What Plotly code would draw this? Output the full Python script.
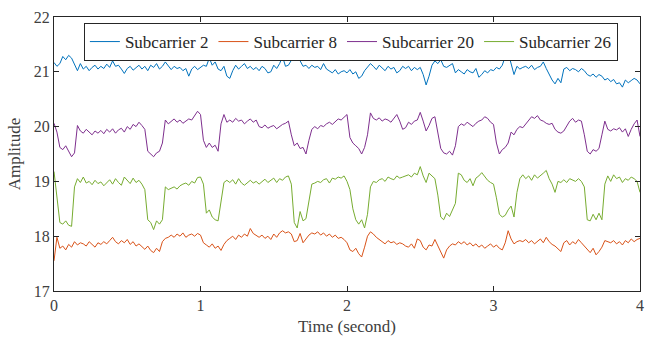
import numpy as np
import plotly.graph_objects as go

# Sampling grid (seconds)
time_s = [round(i * 0.02, 2) for i in range(201)]

subcarrier_2 = [
    21.17, 21.10, 21.15, 21.28, 21.22, 21.30, 21.25, 21.12, 21.02, 21.15,
    21.05, 21.10, 21.02, 21.08, 21.12, 21.05, 21.10, 21.06, 21.14, 21.08,
    21.20, 21.10, 21.12, 21.05, 20.97, 21.06, 21.10, 21.03, 21.08, 21.12,
    21.05, 21.10, 21.02, 21.12, 21.08, 21.15, 21.05, 21.10, 21.18, 21.12,
    21.04, 21.10, 21.06, 21.08, 21.02, 21.06, 20.92, 21.05, 21.10, 21.04,
    21.08, 21.12, 21.10, 21.25, 21.12, 21.18, 21.05, 21.02, 21.10, 20.92,
    20.88, 21.02, 21.12, 21.05, 21.10, 21.15, 21.06, 21.10, 21.04, 21.08,
    21.02, 21.10, 21.06, 20.98, 21.00, 21.12, 21.06, 21.15, 21.28, 21.10,
    21.12, 21.22, 21.30, 21.25, 21.20, 21.10, 21.12, 21.06, 21.12, 21.08,
    21.10, 21.04, 21.15, 21.05, 21.02, 20.98, 21.04, 20.96, 21.00, 21.02,
    20.98, 21.04, 20.96, 21.00, 20.88, 20.92, 21.02, 21.08, 21.15, 21.10,
    21.04, 21.12, 21.06, 21.02, 21.10, 21.05, 21.08, 20.98, 21.02, 21.10,
    21.06, 21.10, 21.02, 21.08, 21.04, 21.08, 20.95, 20.76, 20.92, 21.12,
    21.20, 21.15, 21.22, 21.10, 21.08, 21.12, 21.15, 20.98, 21.04, 21.00,
    20.96, 21.04, 21.00, 20.98, 21.06, 20.90, 20.95, 21.02, 20.98, 21.04,
    21.02, 21.08, 21.05, 21.12, 21.28, 21.35, 21.15, 20.95, 21.10, 21.05,
    21.08, 21.10, 21.06, 21.12, 21.04, 21.08, 21.10, 21.18, 21.06, 20.95,
    20.85, 20.78, 20.88, 20.80, 21.05, 21.08, 21.02, 21.06, 21.04, 21.00,
    21.06, 21.02, 20.95, 20.92, 20.96, 20.90, 20.95, 20.92, 20.85, 20.88,
    20.82, 20.86, 20.78, 20.80, 20.72, 20.85, 20.80, 20.84, 20.88, 20.85,
    20.78,
]

subcarrier_8 = [
    17.55, 17.98, 17.78, 17.82, 17.75, 17.85, 17.80, 17.90, 17.84, 17.88,
    17.86, 17.82, 17.90, 17.84, 17.80, 17.88, 17.85, 17.90, 17.86, 17.92,
    17.98, 17.90, 17.86, 17.92, 17.88, 17.94, 17.85, 17.90, 17.82, 17.86,
    17.80, 17.76, 17.82, 17.74, 17.70, 17.78, 17.72, 17.90, 17.96, 17.98,
    18.02, 17.98, 18.04, 18.00, 18.06, 17.98, 18.02, 18.04, 18.00, 18.05,
    18.02, 17.88, 17.84, 17.80, 17.86, 17.78, 17.82, 17.74, 17.85, 17.92,
    17.96, 18.00, 17.94, 18.02, 17.98, 18.04, 18.00, 18.14, 18.05, 18.02,
    17.98, 18.02, 17.96, 18.00, 17.94, 18.04, 17.98, 18.06, 18.10, 18.06,
    18.08, 18.04, 17.90, 17.92, 18.05, 17.88, 17.96, 18.02, 18.06, 18.04,
    18.08, 18.02, 18.06, 18.00, 18.04, 17.98, 18.02, 17.96, 17.98, 17.94,
    17.88, 17.75, 17.72, 17.78, 17.68, 17.62, 17.80, 18.00, 18.08, 18.04,
    17.98, 17.94, 17.90, 17.86, 17.92, 17.88, 17.90, 17.85, 17.88, 17.86,
    17.82, 17.80, 17.86, 17.78, 17.95, 17.92, 17.80, 17.75, 17.84, 17.82,
    17.94, 17.82, 17.72, 17.60, 17.75, 17.82, 17.86, 17.84, 17.90, 17.86,
    17.90, 17.84, 17.88, 17.82, 17.86, 17.80, 17.84, 17.78, 17.82, 17.86,
    17.80, 17.84, 17.78, 17.75, 17.88, 18.10, 17.95, 17.86, 17.90, 17.92,
    17.90, 17.94, 17.88, 17.92, 17.86, 17.90, 17.95, 17.88, 17.98, 17.90,
    17.85, 17.82, 17.76, 17.72, 17.88, 17.92, 17.84, 17.90, 17.86, 17.94,
    17.88, 17.82, 17.74, 17.70, 17.78, 17.66, 17.72, 17.80, 17.92, 17.90,
    17.88, 17.92, 17.86, 17.90, 17.84, 17.92, 17.88, 17.95, 17.90, 17.94,
    17.96,
]

subcarrier_20 = [
    20.06, 19.90, 19.62, 19.58, 19.65, 19.55, 19.45, 19.52, 20.02, 19.92,
    19.88, 19.95, 19.90, 19.85, 19.92, 19.88, 19.93, 19.87, 19.95, 19.90,
    19.96, 19.88, 19.94, 19.97, 19.90, 20.00, 19.95, 20.04, 20.00, 20.08,
    20.02, 19.95, 19.55, 19.50, 19.45, 19.52, 19.55, 19.70, 20.12, 20.05,
    20.10, 20.14, 20.08, 20.12, 20.06, 20.10, 20.14, 20.12, 20.20, 20.28,
    20.22, 19.75, 19.62, 19.70, 19.62, 19.66, 19.55, 20.05, 20.22, 20.08,
    20.12, 20.08, 20.15, 20.10, 20.12, 20.05, 20.10, 20.14, 20.08, 20.12,
    20.00, 19.98, 20.03, 19.97, 20.00, 20.02, 19.96, 20.00, 20.04, 20.06,
    20.10, 19.85, 19.65, 19.70, 19.60, 19.62, 19.50, 19.75, 19.95, 20.00,
    19.96, 20.02, 20.00, 20.05, 20.08, 20.04, 20.10, 20.14, 20.12, 20.18,
    20.22, 19.80, 19.70, 19.65, 19.60, 19.50, 19.62, 19.85, 20.25, 20.15,
    20.12, 20.16, 20.10, 20.14, 20.12, 20.08, 20.15, 20.22, 20.10, 19.95,
    19.98, 20.08, 20.04, 20.10, 20.12, 20.26, 20.10, 19.92, 20.02, 20.15,
    20.18, 19.90, 19.60, 19.52, 19.50, 19.55, 19.48, 19.65, 20.00, 20.05,
    20.02, 20.08, 20.04, 20.00, 20.06, 20.10, 20.12, 20.18, 20.15, 20.08,
    20.04, 19.70, 19.50, 19.58, 19.62, 19.70, 19.90, 19.85, 19.95, 20.00,
    19.98, 20.05, 20.12, 20.18, 20.15, 20.20, 20.12, 20.10, 20.06, 20.04,
    20.06, 19.95, 19.90, 19.88, 19.92, 20.00, 20.10, 20.15, 20.08, 20.12,
    20.10, 19.85, 19.55, 19.50, 19.58, 19.55, 19.60, 19.85, 20.10, 19.95,
    19.92, 19.96, 19.94, 19.98, 19.90, 19.96, 19.82, 19.95, 20.05, 20.12,
    19.82,
]

subcarrier_26 = [
    19.18, 18.75, 18.25, 18.22, 18.28, 18.20, 18.18, 18.90, 19.05, 18.98,
    19.08, 18.97, 19.00, 18.94, 19.02, 18.96, 18.99, 18.92, 18.98, 19.03,
    18.95, 19.05, 18.98, 18.93, 19.08, 19.02, 18.96, 19.06, 18.98, 19.02,
    18.95, 18.85, 18.30, 18.25, 18.12, 18.28, 18.22, 18.30, 18.90, 18.85,
    18.88, 18.90, 18.86, 18.92, 18.95, 18.97, 18.93, 19.00, 18.97, 19.07,
    19.08, 18.95, 18.42, 18.48, 18.35, 18.30, 18.28, 18.60, 18.98, 19.02,
    18.98, 19.03, 18.95, 19.05, 18.97, 18.93, 18.98, 19.02, 18.97, 19.00,
    18.95, 19.00, 19.04, 18.98, 19.02, 19.06, 18.98, 19.05, 19.02, 19.08,
    19.10, 18.95, 18.25, 18.15, 18.45, 18.28, 18.32, 18.60, 18.95, 18.97,
    19.00, 18.98, 19.03, 19.05, 18.97, 19.06, 19.04, 19.08, 19.06, 19.10,
    19.00, 18.85, 18.50, 18.30, 18.22, 18.30, 18.15, 18.40, 18.90, 19.00,
    18.98, 19.03, 19.05, 19.00, 19.08, 19.05, 19.03, 19.10, 19.06, 19.08,
    19.10, 19.12, 19.08, 19.15, 19.12, 19.27, 19.10, 18.98, 19.15, 19.10,
    19.05, 18.75, 18.35, 18.30, 18.42, 18.36, 18.48, 18.60, 19.15, 19.12,
    19.02, 18.98, 19.05, 18.92, 19.06, 19.10, 19.16, 19.08, 19.02, 18.98,
    18.95, 18.70, 18.40, 18.35, 18.38, 18.48, 18.55, 18.35, 18.80, 19.05,
    19.12, 19.05, 19.10, 19.02, 19.12, 19.06, 19.10, 19.15, 19.20, 19.05,
    18.95, 18.80, 19.00, 18.98, 19.03, 18.98, 19.05, 19.02, 19.00, 19.05,
    19.00, 18.90, 18.30, 18.28, 18.40, 18.30, 18.42, 18.30, 18.95, 19.10,
    19.00, 19.12, 19.05, 19.08, 18.98, 19.05, 19.02, 19.08, 19.05, 19.00,
    18.80,
]

series = [
    ("Subcarrier 2", subcarrier_2, "#0072BD"),
    ("Subcarrier 8", subcarrier_8, "#D95319"),
    ("Subcarrier 20", subcarrier_20, "#7E2F8E"),
    ("Subcarrier 26", subcarrier_26, "#77AC30"),
]

x_ticks = [0, 1, 2, 3, 4]
y_ticks = [17, 18, 19, 20, 21, 22]

FONT = "Liberation Serif"
AXIS_COLOR = "#262626"
TEXT_COLOR = "#404040"

fig = go.Figure()
for name, values, color in series:
    fig.add_trace(go.Scatter(
        x=time_s, y=values, mode="lines", name=name,
        line=dict(color=color, width=1),
    ))

axis_common = dict(
    showline=True, linecolor=AXIS_COLOR, linewidth=1, mirror="ticks",
    ticks="inside", ticklen=5, tickcolor=AXIS_COLOR, tickwidth=1,
    showgrid=False, zeroline=False,
    tickfont=dict(family=FONT, size=16, color=TEXT_COLOR),
)

fig.update_xaxes(
    range=[0, 4], tickvals=x_ticks,
    title=dict(text="Time (second)", font=dict(family=FONT, size=17, color=TEXT_COLOR), standoff=6),
    **axis_common,
)
fig.update_yaxes(
    range=[17, 22], tickvals=y_ticks,
    title=dict(text="Amplitude", font=dict(family=FONT, size=17, color=TEXT_COLOR), standoff=8),
    **axis_common,
)

fig.update_layout(
    width=653, height=341,
    margin=dict(l=54, r=9, t=13, b=49),
    paper_bgcolor="white", plot_bgcolor="white",
    font=dict(family=FONT, color=AXIS_COLOR),
    legend=dict(
        orientation="h", x=0.051, y=0.978, xanchor="left", yanchor="top",
        bgcolor="white", bordercolor=AXIS_COLOR, borderwidth=1,
        font=dict(family=FONT, size=17, color=AXIS_COLOR),
        itemwidth=30, tracegroupgap=0,
    ),
)

fig.write_html("out.html")
